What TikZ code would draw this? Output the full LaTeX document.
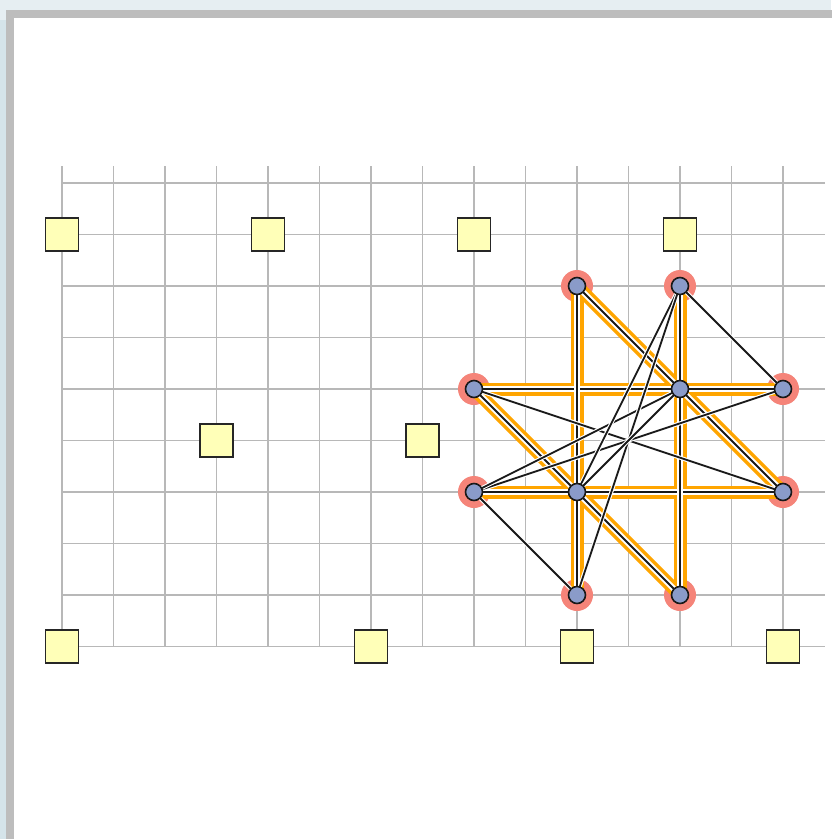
\documentclass[tikz,border=0pt]{standalone}
\definecolor{bgout}{HTML}{E6EEF2}
\definecolor{bgleft}{HTML}{D5E4EA}
\definecolor{framegray}{HTML}{BDBDBD}
\definecolor{gridgray}{HTML}{B8B8B8}
\definecolor{sqfill}{HTML}{FFFFB8}
\definecolor{halocol}{HTML}{F58479}
\definecolor{orangeH}{HTML}{FFA500}
\definecolor{vblue}{HTML}{8A9BC9}
\tikzset{
  gridline/.style={draw=gridgray, line width=1.4pt},
  sq/.style={draw=black!85, fill=sqfill, line width=1.9pt, minimum size=33pt, inner sep=0pt},
  halo/.style={fill=halocol},
  hlband/.style={draw=orangeH, line width=13pt},
  hledge/.style={draw=black!90, line width=2pt, preaction={draw=white, line width=6pt}},
  thinedge/.style={draw=black!90, line width=1.8pt, preaction={draw=white, line width=4pt}},
  vert/.style={circle, draw=black!90, fill=vblue, line width=1.6pt, minimum size=17pt, inner sep=0pt}
}
\begin{document}
\begin{tikzpicture}[x=1pt,y=-1pt]
\useasboundingbox (0,0) rectangle (831,839);
\fill[bgout] (0,0) rectangle (831,839);
\fill[bgleft] (0,20) rectangle (6,839);
\fill[framegray] (6,10) rectangle (840,850);
\fill[white] (13.5,17.5) rectangle (840,850);
% grid
\foreach \k in {0,...,14} \draw[gridline] ({62+51.5*\k},166) -- ({62+51.5*\k},646.5);
\foreach \j in {0,...,9} \draw[gridline] (62,{183+51.5*\j}) -- (825,{183+51.5*\j});
% yellow squares
\node[sq] (s1) at (62,234.5) {};
\node[sq] (s2) at (268,234.5) {};
\node[sq] (s3) at (474,234.5) {};
\node[sq] (s4) at (680,234.5) {};
\node[sq] (s5) at (216.5,440.5) {};
\node[sq] (s6) at (422.5,440.5) {};
\node[sq] (s7) at (62,646.5) {};
\node[sq] (s8) at (371,646.5) {};
\node[sq] (s9) at (577,646.5) {};
\node[sq] (s10) at (783,646.5) {};
% graph vertices
\coordinate (a) at (577,286);
\coordinate (b) at (680,286);
\coordinate (c) at (474,389);
\coordinate (d) at (680,389);
\coordinate (e) at (783,389);
\coordinate (f) at (474,492);
\coordinate (g) at (577,492);
\coordinate (h) at (783,492);
\coordinate (i) at (577,595);
\coordinate (j) at (680,595);
% halos
\foreach \v in {a,b,c,e,f,h,i,j} \fill[halo] (\v) circle (16pt);
% highlighted bands
\draw[hlband] (c) -- (d) -- (e);
\draw[hlband] (f) -- (g) -- (h);
\draw[hlband] (a) -- (g) -- (i);
\draw[hlband] (b) -- (d) -- (j);
\draw[hlband] (a) -- (d) -- (h);
\draw[hlband] (c) -- (g) -- (j);
% highlighted edges
\draw[hledge] (c) -- (d) -- (e);
\draw[hledge] (f) -- (g) -- (h);
\draw[hledge] (a) -- (g) -- (i);
\draw[hledge] (b) -- (d) -- (j);
\draw[hledge] (a) -- (d) -- (h);
\draw[hledge] (c) -- (g) -- (j);
% thin edges
\draw[thinedge] (b) -- (e);
\draw[thinedge] (f) -- (i);
\draw[thinedge] (c) -- (h);
\draw[thinedge] (f) -- (e);
\draw[thinedge] (f) -- (d);
\draw[thinedge] (b) -- (g);
\draw[thinedge] (b) -- (i);
\draw[thinedge] (g) -- (d);
% vertex discs
\foreach \v in {a,b,c,d,e,f,g,h,i,j} \node[vert] (v\v) at (\v) {};
\end{tikzpicture}
\end{document}
